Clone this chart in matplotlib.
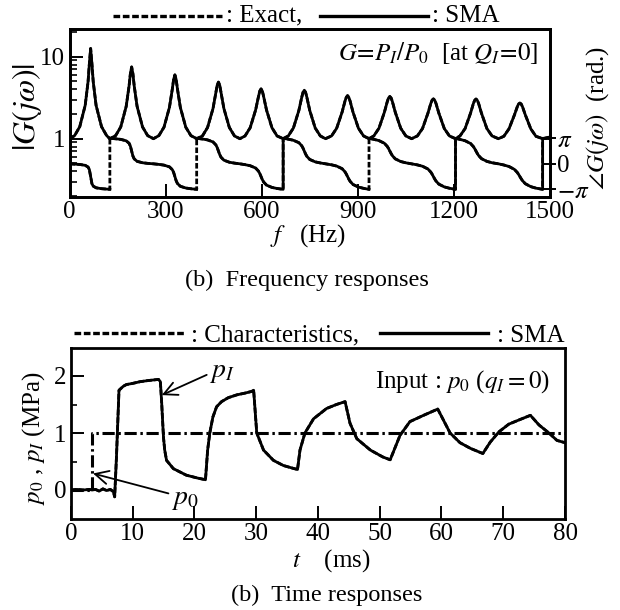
import numpy as np
import matplotlib
matplotlib.use("Agg")
import matplotlib.pyplot as plt
from matplotlib.lines import Line2D
from matplotlib.ticker import FixedLocator, FixedFormatter, LogLocator, NullFormatter

plt.rcParams['font.family'] = ['Liberation Serif', 'DejaVu Serif']
plt.rcParams['mathtext.fontset'] = 'stix'
plt.rcParams['font.size'] = 18

# ---------------- frequency response data ----------------
freq_hz = [0, 16, 32, 49, 58, 62, 66, 70, 74, 83, 100, 116, 126,
           144, 160, 177, 186, 190, 194, 198, 202, 211, 228, 244, 262,
           279, 295, 312, 321, 325, 329, 333, 337, 346, 363, 379, 397,
           415, 431, 448, 457, 461, 465, 469, 473, 482, 499, 515, 532,
           548, 564, 581, 590, 594, 598, 602, 606, 615, 632, 648, 667,
           683, 699, 716, 725, 729, 733, 737, 741, 750, 767, 783, 799,
           818, 834, 851, 860, 864, 868, 872, 876, 885, 902, 918, 935,
           950, 966, 983, 992, 996, 1000, 1004, 1008, 1017, 1034, 1050, 1068,
           1086, 1102, 1119, 1128, 1132, 1136, 1140, 1144, 1153, 1170, 1186, 1205,
           1219, 1235, 1252, 1261, 1265, 1269, 1273, 1277, 1286, 1303, 1319, 1339,
           1356, 1372, 1389, 1398, 1402, 1406, 1410, 1414, 1423, 1440, 1456, 1477, 1500]

gain_abs = [1.0, 1.09, 1.40, 2.55, 4.98, 8.2, 12.6, 8.2, 4.98, 2.55, 1.40, 1.09, 1.0,
            1.09, 1.39, 2.48, 4.41, 6.18, 7.5, 6.18, 4.41, 2.48, 1.39, 1.09, 1.0,
            1.09, 1.38, 2.41, 4.04, 5.26, 6.0, 5.26, 4.04, 2.41, 1.38, 1.09, 1.0,
            1.08, 1.37, 2.33, 3.66, 4.48, 4.9, 4.48, 3.66, 2.33, 1.37, 1.08, 1.0,
            1.08, 1.36, 2.24, 3.27, 3.81, 4.05, 3.81, 3.27, 2.24, 1.36, 1.08, 1.0,
            1.08, 1.35, 2.21, 3.20, 3.68, 3.9, 3.68, 3.20, 2.21, 1.35, 1.08, 1.0,
            1.08, 1.34, 2.11, 2.87, 3.19, 3.35, 3.19, 2.87, 2.11, 1.34, 1.08, 1.0,
            1.08, 1.34, 2.10, 2.83, 3.14, 3.27, 3.14, 2.83, 2.10, 1.34, 1.08, 1.0,
            1.08, 1.33, 2.05, 2.70, 2.95, 3.06, 2.95, 2.70, 2.05, 1.33, 1.08, 1.0,
            1.08, 1.33, 2.05, 2.70, 2.94, 3.05, 2.94, 2.70, 2.05, 1.33, 1.08, 1.0,
            1.07, 1.32, 1.95, 2.46, 2.65, 2.72, 2.65, 2.46, 1.95, 1.32, 1.07, 1.0, 1.05]

phase_hz = [0, 16, 32, 49, 58, 62, 66, 70, 74, 83, 100, 116, 126, 126,
            144, 160, 177, 186, 190, 194, 198, 202, 211, 228, 244, 262,
            279, 295, 312, 321, 325, 329, 333, 337, 346, 363, 379, 397, 397,
            415, 431, 448, 457, 461, 465, 469, 473, 482, 499, 515, 532,
            548, 564, 581, 590, 594, 598, 602, 606, 615, 632, 648, 667, 667,
            683, 699, 716, 725, 729, 733, 737, 741, 750, 767, 783, 799,
            818, 834, 851, 860, 864, 868, 872, 876, 885, 902, 918, 935, 935,
            950, 966, 983, 992, 996, 1000, 1004, 1008, 1017, 1034, 1050, 1068,
            1086, 1102, 1119, 1128, 1132, 1136, 1140, 1144, 1153, 1170, 1186, 1205, 1205,
            1219, 1235, 1252, 1261, 1265, 1269, 1273, 1277, 1286, 1303, 1319, 1339,
            1356, 1372, 1389, 1398, 1402, 1406, 1410, 1414, 1423, 1440, 1456, 1477, 1477, 1500]

phase_rad = [0, -0.034, -0.078, -0.187, -0.398, -0.703, -1.571, -2.439, -2.744, -2.955, -3.064, -3.108, -3.142, 3.142,
             3.085, 3.011, 2.835, 2.530, 2.186, 1.571, 0.956, 0.612, 0.307, 0.131, 0.057, 0.0,
             -0.071, -0.162, -0.375, -0.718, -1.054, -1.571, -2.088, -2.424, -2.767, -2.980, -3.071, -3.142, 3.142,
             3.056, 2.946, 2.695, 2.327, 2.008, 1.571, 1.134, 0.815, 0.447, 0.196, 0.086, 0.0,
             -0.103, -0.234, -0.521, -0.905, -1.199, -1.571, -1.943, -2.237, -2.621, -2.908, -3.039, -3.142, 3.142,
             3.036, 2.900, 2.605, 2.220, 1.931, 1.571, 1.211, 0.922, 0.537, 0.242, 0.106, 0.0,
             -0.122, -0.277, -0.600, -0.988, -1.255, -1.571, -1.887, -2.154, -2.542, -2.865, -3.020, -3.142, 3.142,
             3.017, 2.860, 2.531, 2.144, 1.880, 1.571, 1.262, 0.998, 0.611, 0.282, 0.125, 0.0,
             -0.133, -0.299, -0.640, -1.026, -1.279, -1.571, -1.863, -2.116, -2.502, -2.843, -3.009, -3.142, 3.142,
             3.009, 2.842, 2.501, 2.115, 1.862, 1.571, 1.280, 1.027, 0.641, 0.300, 0.133, 0.0,
             -0.147, -0.330, -0.690, -1.071, -1.307, -1.571, -1.835, -2.071, -2.452, -2.812, -2.995, -3.142, 3.142, 3.10]

# wraps where the SMA trace is not joined by a vertical segment
sma_open_wraps = [126, 397, 935]

# ---------------- time response data ----------------
t_ms = [0, 1.0, 2.0, 3.0, 3.5, 4.0, 4.6, 5.2, 5.8, 6.4, 6.9, 7.1, 7.4, 7.8, 8.5,
        9.0, 10.0, 11.2, 12.5, 14.2, 14.5, 14.7, 15.0, 15.2, 15.5, 16.6, 18.7, 20.5,
        21.8, 22.15, 22.5, 23.0, 23.6, 24.4, 25.5, 26.9, 28.2, 29.3, 29.6, 30.1,
        31.2, 32.8, 34.4, 36.0, 36.7, 37.1, 37.9, 39.3, 41.4, 43.0, 44.4, 45.2,
        46.3, 48.5, 50.5, 51.7, 53.3, 54.9, 57.1, 59.4, 61.4, 63.0, 64.7, 66.7,
        67.9, 69.3, 70.9, 72.8, 74.4, 75.8, 77.4, 78.7, 80.0]
p_I = [0, 0.01, 0.0, 0.01, 0.0, 0.01, -0.02, 0.02, -0.01, 0.01, -0.03, -0.12, 0.6, 1.75, 1.82,
       1.85, 1.87, 1.90, 1.92, 1.94, 1.90, 1.55, 0.93, 0.70, 0.52, 0.375, 0.26, 0.21,
       0.18, 0.70, 1.0, 1.28, 1.46, 1.55, 1.62, 1.67, 1.70, 1.73, 1.75, 1.0,
       0.70, 0.52, 0.43, 0.38, 0.36, 0.70, 1.0, 1.25, 1.43, 1.50, 1.55, 1.17,
       0.90, 0.70, 0.58, 0.53, 0.96, 1.20, 1.31, 1.42, 1.0, 0.83, 0.73, 0.64,
       0.84, 1.02, 1.155, 1.24, 1.31, 1.14, 1.0, 0.87, 0.83]
t_in = [0, 3.5, 3.5, 80]
p_0 = [0, 0, 1, 1]

mag_ticks = [1, 10]
mag_ticklabels = ["1", "10"]
phase_ticks = [-np.pi, 0, np.pi]
phase_ticklabels = [r"$-\pi$", "0", r"$\pi$"]
freq_ticks = [0, 300, 600, 900, 1200, 1500]
time_ticks = [0, 10, 20, 30, 40, 50, 60, 70, 80]
press_ticks = [0, 1, 2]

# ---------------- figure ----------------
W, H = 620, 610
fig = plt.figure(figsize=(W / 100, H / 100), dpi=100)


def fx(px):
    return px / W


def fy(py):
    return 1 - py / H


LW = 2.0
DASH = (0, (2.0, 0.8))
DASHDOT = (0, (4.0, 1.2, 0.8, 1.2))

# --- upper panel: frequency responses ---
ax1 = fig.add_axes([fx(69.5), fy(196.7), (550 - 69.5) / W, (196.7 - 29.3) / H])
ax1.set_yscale('log')
ax1.plot(freq_hz, gain_abs, color='black', lw=LW, ls=DASH)
ax1.plot(freq_hz, gain_abs, color='black', lw=LW, ls='-')
ax1.set_xlim(0, 1500)
ax1.set_ylim(0.196, 21.6)
ax1.xaxis.set_major_locator(FixedLocator(freq_ticks))
ax1.yaxis.set_major_locator(FixedLocator(mag_ticks))
ax1.yaxis.set_major_formatter(FixedFormatter(mag_ticklabels))
ax1.yaxis.set_minor_locator(LogLocator(base=10, subs=np.arange(2, 10)))
ax1.yaxis.set_minor_formatter(NullFormatter())
ax1.tick_params(axis='both', which='major', direction='in', length=9.5, width=1.4, pad=3,
                labelsize=18, top=False, right=False)
ax1.tick_params(axis='y', which='minor', direction='in', length=5, width=1.2, right=False)

ax2 = ax1.twinx()
ph = np.array(phase_rad, dtype=float)
fp = np.array(phase_hz, dtype=float)
ax2.plot(fp, ph, color='black', lw=LW, ls=DASH)
sma_f, sma_p = [], []
for i in range(len(fp)):
    if i > 0 and fp[i] == fp[i - 1] and fp[i] in sma_open_wraps:
        sma_f.append(np.nan)
        sma_p.append(np.nan)
    sma_f.append(fp[i])
    sma_p.append(ph[i])
ax2.plot(sma_f, sma_p, color='black', lw=LW, ls='-')
ax2.set_ylim(-4.05, 16.57)
ax2.yaxis.set_major_locator(FixedLocator(phase_ticks))
ax2.yaxis.set_major_formatter(FixedFormatter(phase_ticklabels))
ax2.tick_params(axis='y', which='major', direction='inout', length=8, width=1.4, pad=1,
                labelsize=18)

for a in (ax1, ax2):
    for s in a.spines.values():
        s.set_linewidth(2.0)

ax2.text(0.975, 0.86, r"$G\!=\!P_I/P_0$  [at $Q_I\!=\!0$]", transform=ax1.transAxes,
         ha='right', va='center', fontsize=18)

# --- lower panel: time responses ---
ax3 = fig.add_axes([fx(70.8), fy(518.5), (565 - 70.8) / W, (518.5 - 347.5) / H])
ax3.plot(t_ms, p_I, color='black', lw=LW, ls=DASH)
ax3.plot(t_ms, p_I, color='black', lw=LW, ls='-')
ax3.plot(t_in, p_0, color='black', lw=2.2, ls=DASHDOT)
ax3.set_xlim(0, 80)
ax3.set_ylim(-0.5, 2.5)
ax3.xaxis.set_major_locator(FixedLocator(time_ticks))
ax3.yaxis.set_major_locator(FixedLocator(press_ticks))
ax3.yaxis.set_minor_locator(FixedLocator([0.5, 1.5]))
ax3.tick_params(axis='both', which='major', direction='in', length=9.5, width=1.4, pad=3,
                labelsize=18, top=False, right=False)
ax3.tick_params(axis='y', which='minor', direction='in', length=4, width=1.2, right=False)
for s in ax3.spines.values():
    s.set_linewidth(2.0)

ax3.text(0.97, 0.80, r"Input : $p_0$ ($q_I = 0$)", transform=ax3.transAxes,
         ha='right', va='center', fontsize=18)

arrow = dict(arrowstyle='->', lw=1.3, color='black', mutation_scale=24,
             shrinkA=0, shrinkB=0)
ax3.annotate('', xy=(14.73, 1.665), xytext=(22.0, 2.02), arrowprops=arrow)
ax3.text(22.4, 2.07, r"$p_I$", ha='left', va='center', fontsize=20)
ax3.annotate('', xy=(3.6, 0.29), xytext=(15.8, -0.06), arrowprops=arrow)
ax3.text(16.2, -0.17, r"$p_0$", ha='left', va='center', fontsize=20)

# --- axis titles ---
fig.text(fx(27), fy(107), r"$|G(j\omega)|$", rotation=90, ha='center', va='center', fontsize=23)
fig.text(fx(598), fy(118), r"$\angle G(j\omega)$  (rad.)", rotation=90, ha='center',
         va='center', fontsize=18)
fig.text(fx(308), fy(236), r"$f$   (Hz)", ha='center', va='center', fontsize=18)
fig.text(fx(34), fy(438), r"$p_0$ , $p_I$ (MPa)", rotation=90, ha='center', va='center',
         fontsize=18)
fig.text(fx(331), fy(561), r"$t$    (ms)", ha='center', va='center', fontsize=18)

# --- captions ---
fig.text(fx(307), fy(280), "(b)  Frequency responses", ha='center', va='center', fontsize=17.5)
fig.text(fx(327), fy(595), "(b)  Time responses", ha='center', va='center', fontsize=17.5)


# --- line-style keys above each panel ---
def key_line(x0, x1, y, ls):
    fig.add_artist(Line2D([fx(x0), fx(x1)], [fy(y), fy(y)], transform=fig.transFigure,
                          color='black', lw=2.4, ls=ls))


key_line(113, 222, 15.5, DASH)
fig.text(fx(226), fy(21.7), ": Exact,", ha='left', va='baseline', fontsize=18)
key_line(320, 428, 15.5, '-')
fig.text(fx(432), fy(21.7), ": SMA", ha='left', va='baseline', fontsize=18)

key_line(74, 185, 333, DASH)
fig.text(fx(191), fy(341.7), ": Characteristics,", ha='left', va='baseline', fontsize=18)
key_line(380, 488, 333, '-')
fig.text(fx(497), fy(341.7), ": SMA", ha='left', va='baseline', fontsize=18)

fig.savefig("out.png", dpi=100)
